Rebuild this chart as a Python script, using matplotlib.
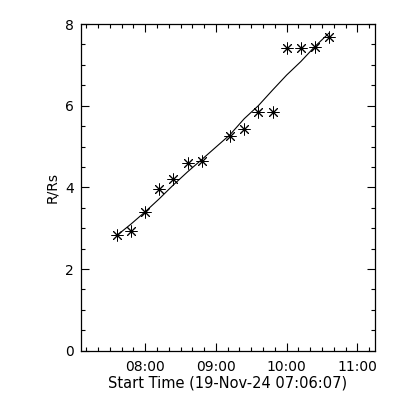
import matplotlib
matplotlib.use("Agg")
import matplotlib.pyplot as plt
from matplotlib.ticker import MultipleLocator, FuncFormatter

times = ["07:36", "07:48", "08:00", "08:12", "08:24", "08:36", "08:48",
         "09:12", "09:24", "09:36", "09:48", "10:00", "10:12", "10:24", "10:36"]
r_rs = [2.83, 2.93, 3.39, 3.95, 4.20, 4.60, 4.65,
        5.26, 5.43, 5.84, 5.84, 7.41, 7.41, 7.44, 7.68]
fit_rs = [2.82, 3.10, 3.40, 3.72, 4.06, 4.38, 4.68,
          5.29, 5.68, 6.00, 6.38, 6.75, 7.08, 7.45, 7.78]
x_range = ["07:05:24", "11:14:54"]
y_range = [0, 8]
xlabel = "Start Time (19-Nov-24 07:06:07)"
ylabel = "R/Rs"


def to_min(s):
    parts = [int(p) for p in s.split(":")]
    while len(parts) < 3:
        parts.append(0)
    return parts[0] * 60 + parts[1] + parts[2] / 60.0


t = [to_min(s) for s in times]

fig = plt.figure(figsize=(4, 4), dpi=100)
ax = fig.add_axes([0.2018, 0.1233, 0.7357, 0.8167])

ax.plot(t, fit_rs, color="black", lw=0.8)
ax.plot(t, r_rs, linestyle="none", marker=(8, 2, 0), markersize=8.5,
        markeredgewidth=0.7, color="black")

ax.set_xlim(to_min(x_range[0]), to_min(x_range[1]))
ax.set_ylim(*y_range)

ax.xaxis.set_major_locator(MultipleLocator(60))
ax.xaxis.set_minor_locator(MultipleLocator(10))
ax.xaxis.set_major_formatter(FuncFormatter(lambda v, p: "%02d:%02d" % (int(v // 60), int(v % 60))))
ax.yaxis.set_major_locator(MultipleLocator(2))
ax.yaxis.set_minor_locator(MultipleLocator(0.5))
ax.yaxis.set_major_formatter(FuncFormatter(lambda v, p: "%d" % v))

ax.tick_params(which="both", direction="in", top=True, right=True,
               width=0.8, labelsize=10, colors="black")
ax.tick_params(axis="x", which="major", length=6, pad=7)
ax.tick_params(axis="y", which="major", length=6, pad=5)
ax.tick_params(which="minor", length=3)
for s in ax.spines.values():
    s.set_linewidth(0.9)

ax.set_xlabel(xlabel, fontsize=10.5, labelpad=1)
ax.set_ylabel(ylabel, fontsize=10, labelpad=4)

fig.savefig("out.png", dpi=100)
